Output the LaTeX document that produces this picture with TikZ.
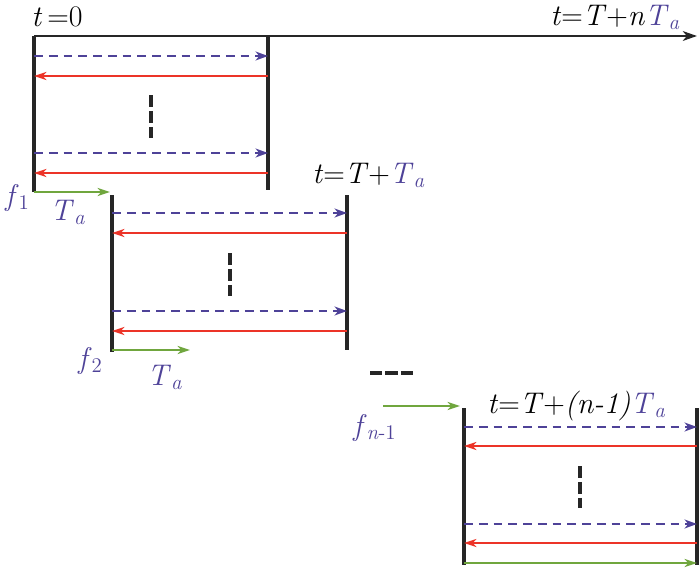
\documentclass[tikz,border=0pt]{standalone}
\usetikzlibrary{arrows.meta}
\definecolor{tblue}{RGB}{78,66,152}
\definecolor{tred}{RGB}{236,52,40}
\definecolor{tgreen}{RGB}{112,166,62}
\newcommand{\TaLab}{\textcolor{tblue}{\textit{T}\textsubscript{\textit{a}}}}

\begin{document}
\begin{tikzpicture}[
  frame/.style={line width=2.2pt, black!85},
  fwd/.style={tblue, line width=1.4pt, dash pattern=on 5pt off 3.4pt,
    -{Stealth[length=7pt, width=5pt, inset=2pt]}},
  bwd/.style={tred, line width=1.3pt, -{Stealth[length=7pt, width=4.5pt, inset=2pt]}},
  offsetarrow/.style={tgreen, line width=1.5pt, -{Stealth[length=7pt, width=4.5pt, inset=2pt]}},
  gapmark/.style={black!85, line width=2.3pt, dash pattern=on 6.8pt off 2.3pt},
  lab/.style={font=\fontsize{17}{20}\selectfont, inner sep=0pt}
]
  \useasboundingbox (0,0) rectangle (14,11.36);

  % === Time axis ===
  \coordinate (origin) at (0.68,10.64);
  \coordinate (tend) at (13.94,10.64);
  \draw[line width=1.6pt, black!85, -{Stealth[length=8pt, width=5.5pt, inset=2.2pt]}] (origin) -- (tend);
  \node[lab, anchor=base west] (tzero) at (0.62,10.82) {\textit{t}\,=0};
  \node[lab, anchor=base west] (tlast) at (11.0,10.86) {\textit{t}=\textit{T}+\textit{n}\TaLab};

  % === Block 1 ===
  \draw[frame] (0.68,10.64) -- (0.68,7.52);
  \draw[frame] (5.36,10.64) -- (5.36,7.56);
  \draw[fwd] (0.68,10.24) -- (5.36,10.24);
  \draw[bwd] (5.36,9.84) -- (0.68,9.84);
  \draw[gapmark] (3.02,9.46) -- (3.02,8.60);
  \draw[fwd] (0.68,8.30) -- (5.36,8.30);
  \draw[bwd] (5.36,7.90) -- (0.68,7.90);
  \draw[offsetarrow] (0.68,7.52) -- (2.20,7.52);
  \node[lab, anchor=base west] (f1) at (0.10,7.26) {\textcolor{tblue}{\textit{f}\textsubscript{1}}};
  \node[lab, anchor=base west] (ta1) at (1.00,6.96) {\TaLab};

  % === Block 2 ===
  \draw[frame] (2.24,7.46) -- (2.24,4.32);
  \draw[frame] (6.94,7.46) -- (6.94,4.36);
  \node[lab, anchor=base west] (tfirst) at (6.24,7.70) {\textit{t}=\textit{T}+\TaLab};
  \draw[fwd] (2.24,7.10) -- (6.94,7.10);
  \draw[bwd] (6.94,6.70) -- (2.24,6.70);
  \draw[gapmark] (4.60,6.30) -- (4.60,5.44);
  \draw[fwd] (2.24,5.14) -- (6.94,5.14);
  \draw[bwd] (6.94,4.74) -- (2.24,4.74);
  \draw[offsetarrow] (2.24,4.36) -- (3.80,4.36);
  \node[lab, anchor=base west] (f2) at (1.56,4.00) {\textcolor{tblue}{\textit{f}\textsubscript{2}}};
  \node[lab, anchor=base west] (ta2) at (2.94,3.66) {\TaLab};

  % === Gap between blocks ===
  \draw[gapmark, dash pattern=on 7pt off 1.8pt] (7.40,3.90) -- (8.28,3.90);

  % === Block n ===
  \draw[offsetarrow] (7.66,3.24) -- (9.20,3.24);
  \node[lab, anchor=base west] (fn) at (7.06,2.66) {\textcolor{tblue}{\textit{f}\textsubscript{\textit{n}-1}}};
  \node[lab, anchor=base west] (tn) at (9.74,3.10) {\textit{t}=\textit{T}+\textit{(n-1)}\TaLab};
  \draw[frame] (9.28,3.20) -- (9.28,0.06);
  \draw[frame] (13.94,3.20) -- (13.94,0.06);
  \draw[fwd] (9.28,2.82) -- (13.94,2.82);
  \draw[bwd] (13.94,2.44) -- (9.28,2.44);
  \draw[gapmark] (11.60,2.04) -- (11.60,1.20);
  \draw[fwd] (9.28,0.88) -- (13.94,0.88);
  \draw[bwd] (13.94,0.50) -- (9.28,0.50);
  \draw[offsetarrow] (9.28,0.10) -- (13.94,0.10);
\end{tikzpicture}
\end{document}
